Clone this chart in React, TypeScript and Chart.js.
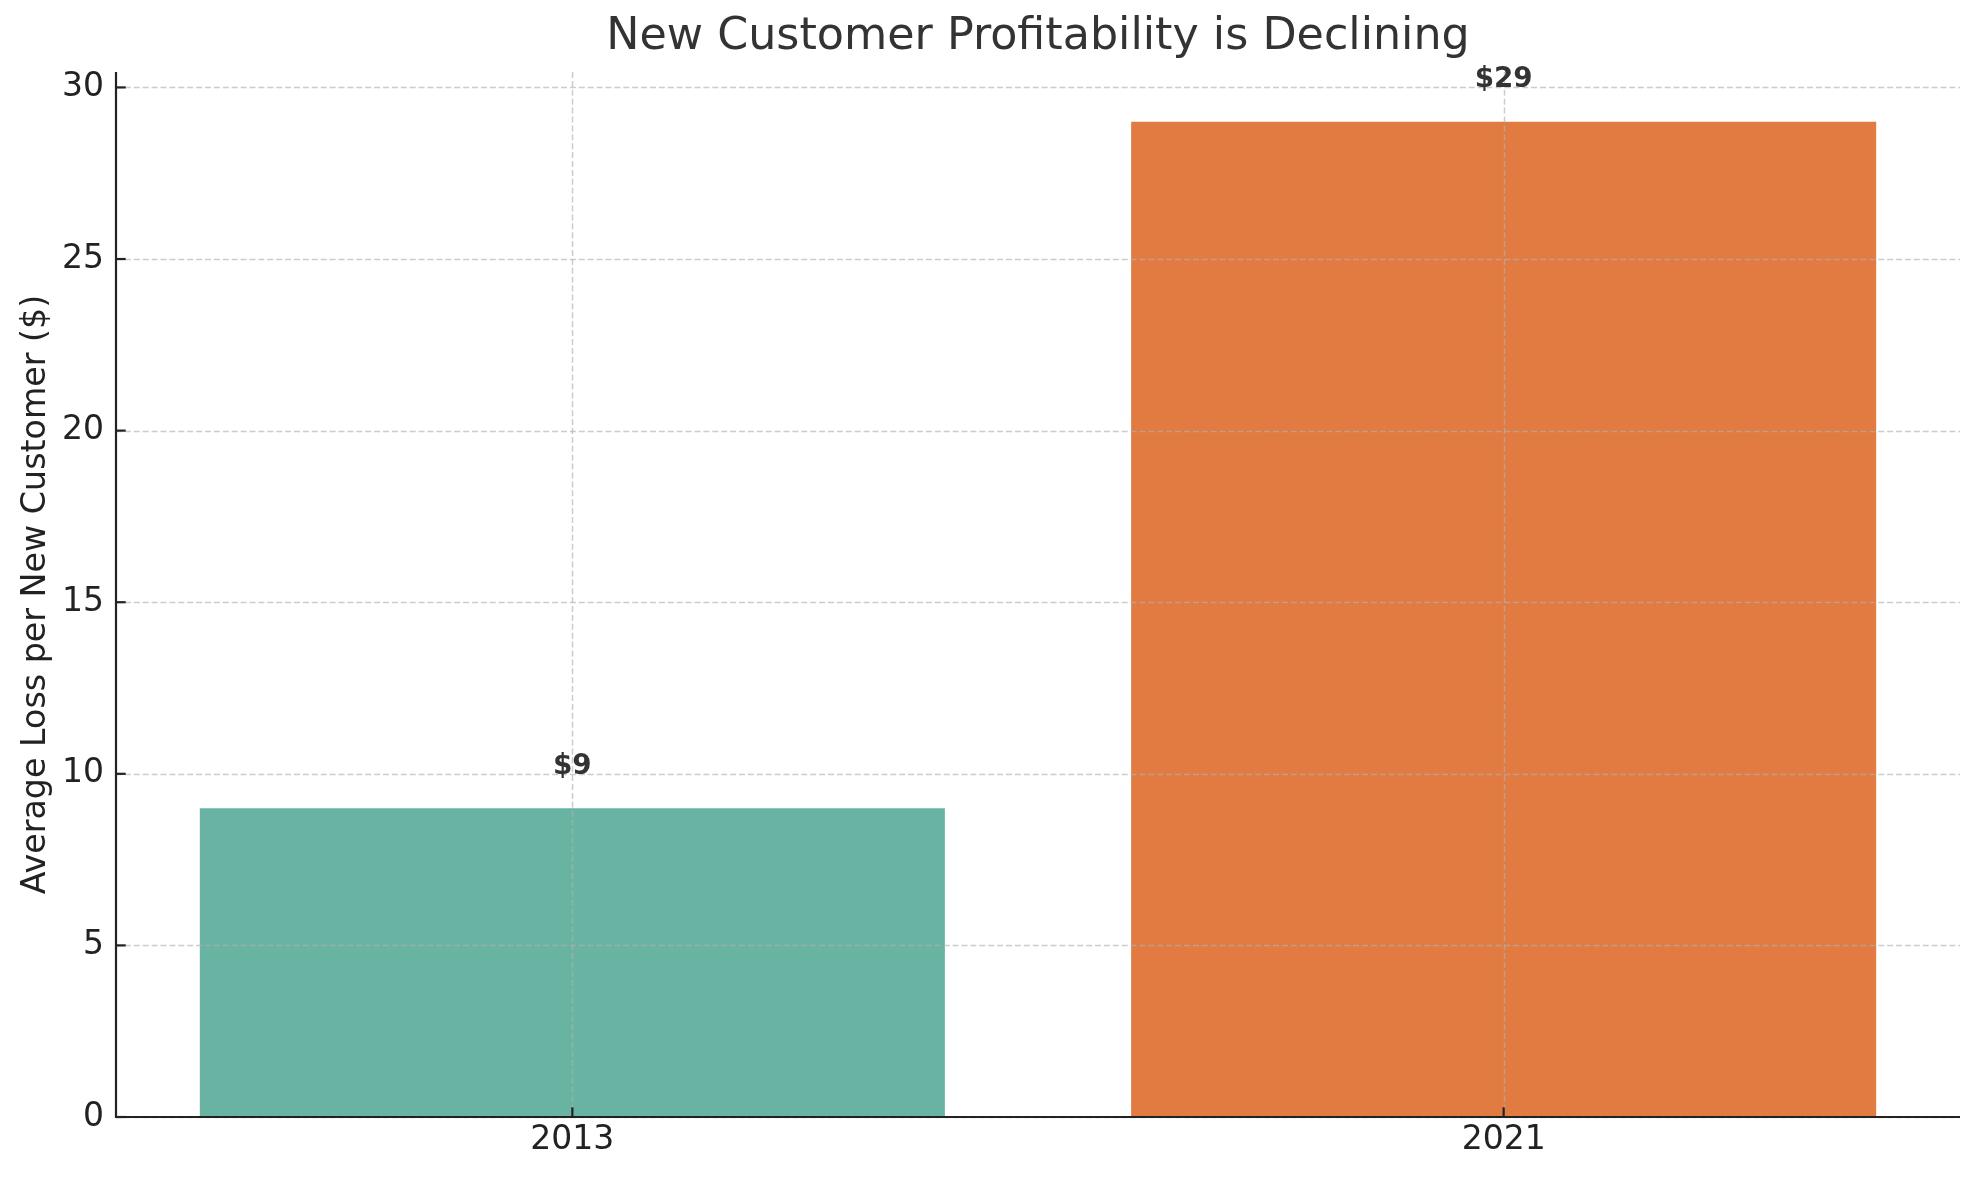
import React, { useEffect, useRef } from "react";
import { Chart, registerables } from "chart.js";

Chart.register(...registerables);

const categories = ["2013", "2021"];
const lossValues = [9, 29];
const barColors = ["#69b3a2", "#e27b41"];
const barLabels = ["$9", "$29"];
const yTicks = [0, 5, 10, 15, 20, 25, 30];
const yMax = 30.45;
const xMin = -0.49;
const xMax = 1.49;

const FONT = "'DejaVu Sans', sans-serif";

const snap = (v: number) => Math.round(v) + 0.5;

const axesPlugin = {
  id: "mplAxes",
  afterDatasetsDraw(chart: any) {
    const { ctx, chartArea, scales } = chart;
    const xs = scales.x;
    const ys = scales.y;
    ctx.save();
    // grid (drawn over bars, semi-transparent)
    ctx.strokeStyle = "rgba(176,176,176,0.65)";
    ctx.lineWidth = 1.5;
    ctx.setLineDash([6, 2.9]);
    yTicks.forEach((v) => {
      const y = snap(ys.getPixelForValue(v));
      ctx.beginPath();
      ctx.moveTo(chartArea.left, y);
      ctx.lineTo(chartArea.right, y);
      ctx.stroke();
    });
    categories.forEach((_, i) => {
      const x = snap(xs.getPixelForValue(i));
      ctx.beginPath();
      ctx.moveTo(x, chartArea.top);
      ctx.lineTo(x, chartArea.bottom);
      ctx.stroke();
    });
    ctx.setLineDash([]);
    // spines
    ctx.strokeStyle = "#222222";
    ctx.lineWidth = 2.2;
    ctx.beginPath();
    ctx.moveTo(chartArea.left, chartArea.top);
    ctx.lineTo(chartArea.left, chartArea.bottom);
    ctx.lineTo(chartArea.right, chartArea.bottom);
    ctx.stroke();
    // inward ticks
    yTicks.forEach((v) => {
      const y = ys.getPixelForValue(v);
      ctx.beginPath();
      ctx.moveTo(chartArea.left, y);
      ctx.lineTo(chartArea.left + 9.7, y);
      ctx.stroke();
    });
    categories.forEach((_, i) => {
      const x = xs.getPixelForValue(i);
      ctx.beginPath();
      ctx.moveTo(x, chartArea.bottom);
      ctx.lineTo(x, chartArea.bottom - 9.7);
      ctx.stroke();
    });
    // bar value labels
    ctx.fillStyle = "#333333";
    ctx.font = `bold 27.8px ${FONT}`;
    ctx.textAlign = "center";
    ctx.textBaseline = "alphabetic";
    lossValues.forEach((v, i) => {
      const x = xs.getPixelForValue(i);
      const y = ys.getPixelForValue(v + 1);
      ctx.fillText(barLabels[i], x, y);
    });
    ctx.restore();
  },
};

export default function App() {
  const canvasRef = useRef<HTMLCanvasElement | null>(null);

  useEffect(() => {
    document.body.style.margin = "0";
    const canvas = canvasRef.current;
    if (!canvas) return;
    const chart = new Chart(canvas, {
      type: "bar",
      data: {
        datasets: [
          {
            data: lossValues.map((v, i) => ({ x: i, y: v })),
            backgroundColor: barColors,
            borderWidth: 0,
            barPercentage: 1,
            categoryPercentage: 0.8,
          },
        ],
      },
      options: {
        responsive: false,
        animation: false,
        devicePixelRatio: 1,
        layout: { padding: { left: 0, right: 19, top: 0, bottom: 0 } },
        plugins: {
          legend: { display: false },
          tooltip: { enabled: false },
          title: {
            display: true,
            text: "New Customer Profitability is Declining",
            color: "#333333",
            fullSize: false,
            font: { family: FONT, size: 44.4, weight: "normal" },
            padding: { top: 11, bottom: 7.7 },
          },
        },
        scales: {
          x: {
            type: "linear",
            min: xMin,
            max: xMax,
            offset: false,
            afterBuildTicks: (scale: any) => {
              scale.ticks = categories.map((_, i) => ({ value: i }));
            },
            afterFit: (scale: any) => {
              scale.height = 63;
            },
            grid: { display: false, drawTicks: false },
            border: { display: false },
            ticks: {
              color: "#222222",
              font: { family: FONT, size: 33 },
              padding: 4,
              maxRotation: 0,
              autoSkip: false,
              callback: (v: any) => categories[Number(v)] ?? "",
            },
          },
          y: {
            type: "linear",
            min: 0,
            max: yMax,
            afterBuildTicks: (scale: any) => {
              scale.ticks = yTicks.map((v) => ({ value: v }));
            },
            afterFit: (scale: any) => {
              scale.width = 116;
            },
            grid: { display: false, drawTicks: false },
            border: { display: false },
            ticks: {
              color: "#222222",
              font: { family: FONT, size: 33 },
              padding: 12,
              autoSkip: false,
              callback: (v: any) => String(v),
            },
            title: {
              display: true,
              text: "Average Loss per New Customer ($)",
              color: "#222222",
              font: { family: FONT, size: 33.3 },
              padding: { top: 16, bottom: 0 },
            },
          },
        },
      },
      plugins: [axesPlugin],
    } as any);
    return () => chart.destroy();
  }, []);

  return (
    <div style={{ width: 1979, height: 1180, background: "#ffffff" }}>
      <canvas ref={canvasRef} width={1979} height={1180} style={{ display: "block" }} />
    </div>
  );
}
